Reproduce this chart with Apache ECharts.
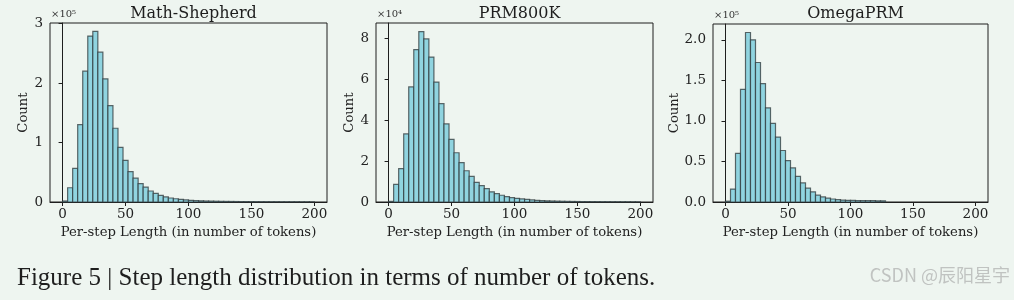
<!DOCTYPE html>
<html>
<head>
<meta charset="utf-8">
<script src="https://cdn.jsdelivr.net/npm/echarts@6/dist/echarts.min.js"></script>
<style>
  html, body { margin: 0; padding: 0; background: #eef5f0; }
  #chart { width: 1014px; height: 300px; }
</style>
</head>
<body>
<div id="chart"></div>
<script>
// Histogram bins: width 4 tokens, starting at 0 (50 bins up to 200)
const BIN_START = 0;
const BIN_WIDTH = 4;

const panelTitles = ['Math-Shepherd', 'PRM800K', 'OmegaPRM'];

// Counts per bin
const mathShepherdCounts = [
  1700, 24000, 56500, 130000, 220000, 279000, 287000, 252000, 207000, 162000,
  124000, 92000, 70000, 51000, 40000, 31000, 25000, 18500, 14500, 11000,
  8500, 6700, 5500, 4500, 3600, 2900, 2400, 2000, 1700, 1500,
  1300, 1100, 1000, 900, 800, 700, 650, 600, 550, 500,
  450, 400, 400, 350, 300, 300, 300, 250, 250, 200
];
const prm800kCounts = [
  300, 8600, 16300, 33300, 56300, 74600, 83400, 79800, 70900, 58700,
  48100, 38200, 30600, 24100, 19300, 15300, 12500, 9600, 8000, 6500,
  5000, 4100, 3300, 2600, 2100, 1800, 1500, 1250, 1000, 800,
  660, 570, 500, 420, 360, 310, 270, 240, 210, 190,
  170, 150, 130, 120, 110, 100, 90, 80, 70, 60
];
const omegaPrmCounts = [
  1000, 16000, 60000, 139000, 209000, 200000, 172000, 146000, 116000, 97000,
  80000, 63500, 51000, 42000, 31500, 23500, 17000, 12500, 8500, 6200,
  4700, 3700, 2900, 2400, 2100, 1900, 1800, 1700, 1600, 1600,
  1500, 1500, 0, 0, 0, 0, 0, 0, 0, 0,
  0, 0, 0, 0, 0, 0, 0, 0, 0, 0
];

// Tick labels
const xTicks = [0, 50, 100, 150, 200];
const yTicksMS = [0, 100000, 200000, 300000];
const yTicksPRM = [0, 20000, 40000, 60000, 80000];
const yTicksOmega = [0, 50000, 100000, 150000, 200000];
const yScaleLabels = ['×10⁵', '×10⁴', '×10⁵'];

const xLabel = 'Per-step Length (in number of tokens)';
const yLabel = 'Count';
const caption = 'Figure 5 | Step length distribution in terms of number of tokens.';
const watermark = 'CSDN @辰阳星宇';

const SERIF = '"DejaVu Serif", serif';
const TICK_SIZE = 13.5;
const LABEL_SIZE = 13.2;

const panels = [
  { counts: mathShepherdCounts, yTicks: yTicksMS, yMax: 301000, scale: 1e5, digits: 0,
    grid: { left: 50, top: 23, width: 277, height: 179 }, nameGap: 20 },
  { counts: prm800kCounts, yTicks: yTicksPRM, yMax: 87600, scale: 1e4, digits: 0,
    grid: { left: 376, top: 23, width: 277, height: 179 }, nameGap: 19 },
  { counts: omegaPrmCounts, yTicks: yTicksOmega, yMax: 219500, scale: 1e5, digits: 1,
    grid: { left: 713, top: 24, width: 275, height: 178 }, nameGap: 29 }
];

function binData(counts) {
  const out = [];
  counts.forEach((c, i) => {
    if (c > 0) {
      const x0 = BIN_START + i * BIN_WIDTH;
      out.push([x0, x0 + BIN_WIDTH, c]);
    }
  });
  return out;
}

function renderBar(params, api) {
  const topLeft = api.coord([api.value(0), api.value(2)]);
  const bottomRight = api.coord([api.value(1), 0]);
  return {
    type: 'rect',
    shape: {
      x: topLeft[0],
      y: topLeft[1],
      width: bottomRight[0] - topLeft[0],
      height: bottomRight[1] - topLeft[1]
    },
    style: {
      fill: '#90d4e0',
      stroke: 'rgba(45,55,58,0.75)',
      lineWidth: 1.2
    }
  };
}

const grids = [], xAxes = [], yAxes = [], series = [], titles = [], graphics = [];

panels.forEach((p, i) => {
  grids.push(Object.assign({
    show: true, borderColor: '#1e1e1e', borderWidth: 1, backgroundColor: 'transparent'
  }, p.grid));

  xAxes.push({
    gridIndex: i, type: 'value', min: -10, max: 210,
    splitLine: { show: false },
    axisLine: { show: true, lineStyle: { color: '#1e1e1e', width: 1 } },
    axisTick: { show: true, length: 4, customValues: xTicks, lineStyle: { color: '#1e1e1e' } },
    axisLabel: { customValues: xTicks, color: '#222', fontFamily: SERIF, fontSize: TICK_SIZE, margin: 5 },
    name: xLabel, nameLocation: 'middle', nameGap: 22,
    nameTextStyle: { color: '#222', fontFamily: SERIF, fontSize: LABEL_SIZE }
  });

  yAxes.push({
    gridIndex: i, type: 'value', min: 0, max: p.yMax,
    splitLine: { show: false },
    axisLine: { show: true, lineStyle: { color: '#1e1e1e', width: 1 } },
    axisTick: { show: true, length: 4, customValues: p.yTicks, lineStyle: { color: '#1e1e1e' } },
    axisLabel: {
      customValues: p.yTicks, color: '#222', fontFamily: SERIF, fontSize: TICK_SIZE, margin: 7,
      formatter: v => (v / p.scale).toFixed(p.digits)
    },
    name: yLabel, nameLocation: 'middle', nameGap: p.nameGap, nameRotate: 90,
    nameTextStyle: { color: '#222', fontFamily: SERIF, fontSize: LABEL_SIZE }
  });

  series.push({
    type: 'custom', xAxisIndex: i, yAxisIndex: i,
    renderItem: renderBar,
    encode: { x: [0, 1], y: 2 },
    data: binData(p.counts),
    silent: true, animation: false
  });

  titles.push({
    text: panelTitles[i],
    left: p.grid.left + p.grid.width / 2, top: 1, textAlign: 'center',
    textStyle: { color: '#1e1e1e', fontFamily: SERIF, fontSize: 16, fontWeight: 'normal' }
  });

  graphics.push({
    type: 'text', left: p.grid.left + 1, top: p.grid.top - 14,
    style: { text: yScaleLabels[i], fill: '#333', font: '10px ' + SERIF }
  });
});

titles.push({
  text: caption, left: 12, top: 261,
  textStyle: { color: '#1e1e1e', fontFamily: '"Liberation Serif", serif', fontSize: 25, fontWeight: 'normal' }
});

graphics.push({
  type: 'text', right: 4, top: 266,
  style: { text: watermark, fill: '#c0c3c1', font: '18px "Noto Sans CJK SC", sans-serif' }
});

const chart = echarts.init(document.getElementById('chart'), null, { renderer: 'canvas' });
chart.setOption({
  backgroundColor: '#eef5f0',
  animation: false,
  title: titles,
  grid: grids,
  xAxis: xAxes,
  yAxis: yAxes,
  series: series,
  graphic: graphics
});
</script>
</body>
</html>
